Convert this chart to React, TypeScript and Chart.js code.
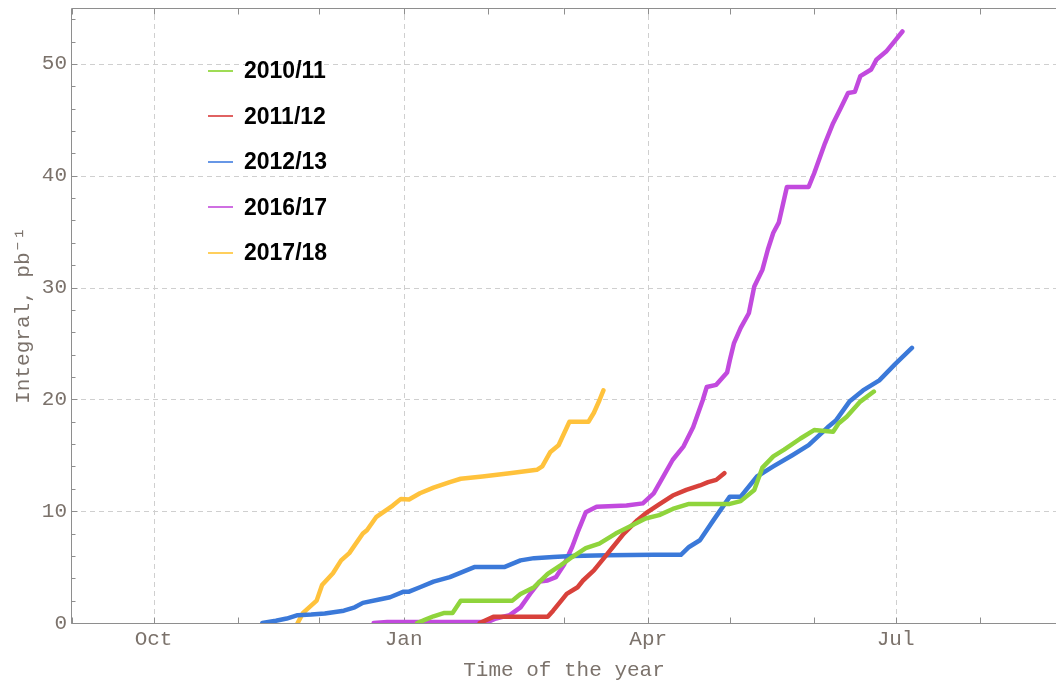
import React, { useEffect, useRef } from 'react';
import { Chart, registerables } from 'chart.js';

Chart.register(...registerables);

// x values are days counted from 1 September
const monthStarts = [0, 30, 61, 91, 122, 153, 181, 212, 242, 273, 303, 334];
const monthNames = ['Sep', 'Oct', 'Nov', 'Dec', 'Jan', 'Feb', 'Mar', 'Apr', 'May', 'Jun', 'Jul', 'Aug'];
const labeledMonths = ['Oct', 'Jan', 'Apr', 'Jul'];
const yMajorTicks = [0, 10, 20, 30, 40, 50];
const yMinorTicks = [2, 4, 6, 8, 12, 14, 16, 18, 22, 24, 26, 28, 32, 34, 36, 38, 42, 44, 46, 48, 52, 54];

const seriesNames = ['2010/11', '2011/12', '2012/13', '2016/17', '2017/18'];

const days2010 = [127, 130, 133, 137, 140, 143, 162, 165, 170, 175, 180, 184, 189, 194, 200, 205, 211, 216, 221, 227, 242, 246, 251, 254, 258, 262, 268, 273, 280, 282, 285, 290, 295];
const vals2010 = [0, 0.3, 0.6, 0.9, 0.9, 2.0, 2.0, 2.6, 3.2, 4.4, 5.2, 5.9, 6.7, 7.1, 8.0, 8.6, 9.35, 9.65, 10.2, 10.65, 10.65, 10.9, 11.9, 13.9, 14.9, 15.5, 16.5, 17.25, 17.1, 17.85, 18.45, 19.8, 20.7];

const days2011 = [150, 155, 175, 177, 180, 182, 186, 188, 192, 195, 199, 203, 208, 211, 216, 221, 226, 231, 234, 237, 240];
const vals2011 = [0, 0.55, 0.55, 1.1, 2.0, 2.6, 3.2, 3.8, 4.7, 5.6, 6.8, 8.0, 9.2, 9.8, 10.6, 11.4, 11.9, 12.3, 12.6, 12.8, 13.4];

const days2012 = [70, 75, 79, 83, 88, 93, 100, 104, 107, 113, 117, 122, 124, 128, 133, 139, 148, 159, 165, 170, 177, 184, 197, 214, 224, 227, 231, 236, 242, 246, 252, 258, 265, 271, 278, 281, 286, 291, 297, 303, 309];
const vals2012 = [0, 0.2, 0.4, 0.7, 0.75, 0.85, 1.1, 1.4, 1.8, 2.1, 2.3, 2.8, 2.8, 3.2, 3.7, 4.1, 5.0, 5.0, 5.6, 5.8, 5.9, 6.0, 6.05, 6.1, 6.1, 6.8, 7.4, 9.2, 11.3, 11.3, 13.1, 14.0, 15.0, 15.9, 17.5, 18.1, 19.8, 20.8, 21.7, 23.2, 24.6];

const days2016 = [111, 116, 153, 156, 161, 165, 168.5, 172, 175, 178, 181, 184, 186, 189, 193, 204, 210, 214, 217.5, 221, 225, 228.5, 232, 233.5, 237, 241, 242, 243.5, 246, 249, 251, 254, 256, 258, 260, 263, 271, 273, 277, 280, 282.5, 285.5, 288, 290, 294, 296, 299.5, 302.5, 305.5];
const vals2016 = [0, 0.1, 0.1, 0.4, 0.7, 1.4, 2.6, 3.7, 3.8, 4.1, 5.2, 6.8, 8.1, 9.9, 10.4, 10.5, 10.7, 11.6, 13.1, 14.6, 15.8, 17.5, 19.9, 21.1, 21.3, 22.4, 23.5, 25.0, 26.4, 27.7, 30.1, 31.6, 33.4, 34.9, 35.8, 39.0, 39.0, 40.2, 42.9, 44.7, 45.9, 47.4, 47.5, 48.9, 49.5, 50.4, 51.1, 52.0, 52.9];

const days2017 = [83, 85, 90, 92, 96, 99, 102, 107, 108.5, 112, 118, 121, 124, 128, 133, 139, 143, 151, 161, 171, 173, 176, 179, 183, 190, 192, 194, 195.5];
const vals2017 = [0, 0.9, 2.0, 3.4, 4.45, 5.6, 6.25, 8.0, 8.3, 9.5, 10.5, 11.1, 11.05, 11.6, 12.1, 12.6, 12.9, 13.1, 13.4, 13.7, 14.0, 15.3, 15.9, 18.0, 18.0, 18.8, 19.9, 20.8];

const seriesDays = [days2010, days2011, days2012, days2016, days2017];
const seriesVals = [vals2010, vals2011, vals2012, vals2016, vals2017];
const seriesColors = ['#8fd43c', '#d8413b', '#3b79d9', '#c24ade', '#ffc23c'];
const legendColors = ['#9fdc55', '#e06262', '#6797e6', '#cf6fe2', '#ffcf5c'];

const textColor = '#7b726b';
const axisColor = '#8e8e8e';
const gridColor = '#cfcfcf';
const monoFont = { family: '"Liberation Mono", "Courier New", monospace', size: 21 };

const framePlugin = {
  id: 'frame',
  beforeDatasetsDraw(chart: any) {
    const { ctx, chartArea: a, scales } = chart;
    const x = scales.x;
    const y = scales.y;
    const line = (x1: number, y1: number, x2: number, y2: number) => {
      ctx.beginPath();
      ctx.moveTo(x1, y1);
      ctx.lineTo(x2, y2);
      ctx.stroke();
    };
    ctx.save();
    ctx.lineWidth = 1;
    ctx.strokeStyle = gridColor;
    ctx.setLineDash([5, 4]);
    monthStarts.forEach((d, i) => {
      if (labeledMonths.includes(monthNames[i])) {
        const px = Math.round(x.getPixelForValue(d)) + 0.5;
        line(px, a.bottom, px, a.top);
      }
    });
    yMajorTicks.forEach((v) => {
      if (v === 0) return;
      const py = Math.round(y.getPixelForValue(v)) + 0.5;
      line(a.left, py, a.right, py);
    });
    ctx.setLineDash([]);
    ctx.strokeStyle = axisColor;
    const top = Math.round(a.top) + 0.5;
    const bottom = Math.round(a.bottom) + 0.5;
    const left = Math.round(a.left) - 0.5;
    line(left, bottom, a.right, bottom);
    line(left, bottom, left, top);
    line(left, top, a.right, top);
    monthStarts.forEach((d) => {
      const px = Math.round(x.getPixelForValue(d)) + 0.5;
      line(px, bottom, px, bottom - 6);
      line(px, top, px, top + 6);
    });
    yMajorTicks.forEach((v) => {
      const py = Math.round(y.getPixelForValue(v)) + 0.5;
      line(left, py, left + 6, py);
    });
    yMinorTicks.forEach((v) => {
      const py = Math.round(y.getPixelForValue(v)) + 0.5;
      line(left, py, left + 4, py);
    });
    ctx.restore();
  },
};

export default function App() {
  const canvasRef = useRef<HTMLCanvasElement | null>(null);

  useEffect(() => {
    const canvas = canvasRef.current;
    if (!canvas) return;
    const datasets = seriesNames.map((name, i) => ({
      label: name,
      data: seriesDays[i].map((d, j) => ({ x: d, y: seriesVals[i][j] })),
      borderColor: seriesColors[i],
      backgroundColor: seriesColors[i],
      borderWidth: 4.5,
      pointRadius: 0,
      tension: 0,
      fill: false,
      borderJoinStyle: 'round' as const,
      borderCapStyle: 'round' as const,
      clip: 0,
    }));
    const chart = new Chart(canvas, {
      type: 'line',
      data: { datasets },
      plugins: [framePlugin],
      options: {
        responsive: false,
        animation: false,
        layout: { padding: { top: 8, left: 0, right: 0, bottom: 0 } },
        plugins: { legend: { display: false }, tooltip: { enabled: false } },
        scales: {
          x: {
            type: 'linear',
            min: 0,
            max: 362,
            afterBuildTicks: (s: any) => {
              s.ticks = monthStarts.map((v) => ({ value: v }));
            },
            afterFit: (s: any) => {
              s.height = 60;
              s.paddingLeft = 0;
              s.paddingRight = 0;
            },
            ticks: {
              autoSkip: false,
              maxRotation: 0,
              minRotation: 0,
              padding: 4,
              color: textColor,
              font: monoFont,
              callback: (v: any) => {
                const n = monthNames[monthStarts.indexOf(Number(v))];
                return labeledMonths.includes(n) ? n : '';
              },
            },
            grid: { display: false, drawTicks: false },
            border: { display: false },
            title: {
              display: true,
              text: 'Time of the year',
              color: textColor,
              font: monoFont,
              padding: { top: 0, bottom: 0 },
            },
          },
          y: {
            min: 0,
            max: 55,
            afterBuildTicks: (s: any) => {
              s.ticks = yMajorTicks.map((v) => ({ value: v }));
            },
            afterFit: (s: any) => {
              s.width = 72;
              s.paddingTop = 0;
              s.paddingBottom = 0;
            },
            ticks: { padding: 5, color: textColor, font: monoFont },
            grid: { display: false, drawTicks: false },
            border: { display: false },
            title: {
              display: true,
              text: 'Integral, pb⁻¹',
              color: textColor,
              font: monoFont,
              padding: { top: 11, bottom: 0 },
            },
          },
        },
      },
    });
    return () => chart.destroy();
  }, []);

  return (
    <div style={{ position: 'fixed', left: 0, top: 0, width: 1056, height: 683, background: '#fff', overflow: 'hidden' }}>
      <canvas ref={canvasRef} width={1056} height={683} style={{ display: 'block' }} />
      {seriesNames.map((name, i) => {
        const cy = 70.5 + i * 45.6;
        return (
          <React.Fragment key={name}>
            <div style={{ position: 'absolute', left: 208, top: cy - 1, width: 25, height: 2, background: legendColors[i] }} />
            <div
              style={{
                position: 'absolute',
                left: 244,
                top: cy - 11.5,
                height: 23,
                lineHeight: '23px',
                fontFamily: '"Liberation Sans", Arial, sans-serif',
                fontWeight: 'bold',
                fontSize: 23,
                color: '#000',
                whiteSpace: 'nowrap',
              }}
            >
              {name}
            </div>
          </React.Fragment>
        );
      })}
    </div>
  );
}
